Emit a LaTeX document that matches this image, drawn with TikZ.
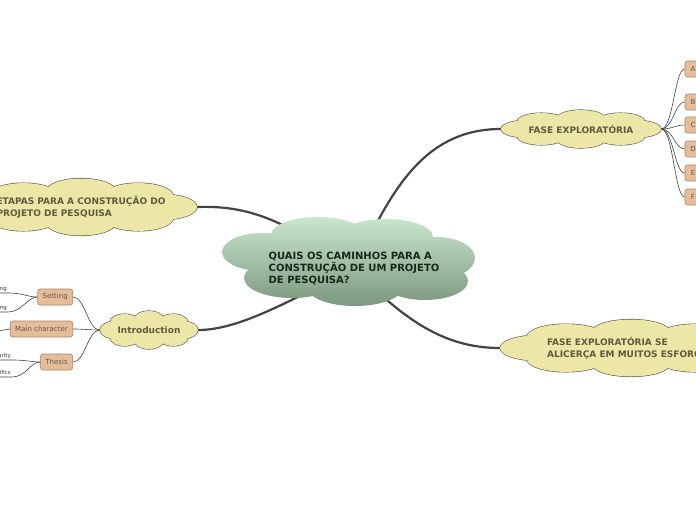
\documentclass[tikz,border=0pt]{standalone}
\usepackage{fontspec}
\setmainfont{DejaVu Sans}
\usetikzlibrary{calc,backgrounds}
\definecolor{mapdark}{HTML}{444444}
\definecolor{cloudyellow}{HTML}{ECE7A6}
\definecolor{cloudline}{HTML}{5A5A4C}
\definecolor{topictext}{HTML}{5E5B40}
\definecolor{centertop}{HTML}{CBE6CE}
\definecolor{centerbottom}{HTML}{7B987F}
\definecolor{centertext}{HTML}{15291A}
\definecolor{tagfill}{HTML}{E5BD9B}
\definecolor{tagline}{HTML}{A9866A}
\definecolor{tagtext}{HTML}{6A5746}

% yellow cloud round a topic node: #1 node, #2 half width, #3 half height
\newcommand\puffcloud[3]{%
  \foreach \ang in {0,45,...,315}
    \draw[cloudline, line width=1.2pt] ($(#1.center)+({0.7*#2*cos(\ang)},{0.55*#3*sin(\ang)})$)
      ellipse [x radius={0.3*#2}, y radius={0.45*#3}];
  \foreach \ang in {0,45,...,315}
    \fill[cloudyellow] ($(#1.center)+({0.7*#2*cos(\ang)},{0.55*#3*sin(\ang)})$)
      ellipse [x radius={0.3*#2}, y radius={0.45*#3}];
  \fill[cloudyellow] (#1.center) ellipse [x radius={0.8*#2}, y radius={0.7*#3}];
}

\begin{document}
\begin{tikzpicture}[x=1pt, y=-1pt,
        topic/.style={text=topictext, font=\fontsize{9}{12}\selectfont\bfseries,
                      align=left, inner sep=0pt},
        main/.style={text=centertext, font=\fontsize{10}{12}\selectfont\bfseries,
                     align=left, inner sep=0pt},
        tag/.style={draw=tagline, line width=0.6pt, rounded corners=2.5pt, fill=tagfill,
                    text=tagtext, font=\fontsize{7}{8}\selectfont, minimum height=16pt,
                    inner xsep=5pt, inner ysep=0pt},
        letter/.style={tag, minimum width=16pt, inner xsep=0pt},
        leaf/.style={font=\fontsize{5.5}{6}\selectfont, text=black!80, inner sep=1pt, anchor=south east},
        branch/.style={draw=mapdark, line width=2.2pt},
        twig/.style={draw=mapdark, line width=0.6pt}
      ]
        \useasboundingbox (0,0) rectangle (696,520);
        \clip (0,0) rectangle (696,520);

        \node[main]  (quest)   at (354,269) {QUAIS OS CAMINHOS PARA A\\CONSTRUÇÃO DE UM PROJETO\\DE PESQUISA?};
        \node[topic, minimum width=232pt, minimum height=57pt] (etapas)  at (81,207)  {ETAPAS PARA A CONSTRUÇÃO DO\\PROJETO DE PESQUISA};
        \node[topic, minimum width=160pt, minimum height=38pt] (explo)   at (581,129) {FASE EXPLORATÓRIA};
        \node[topic, minimum width=262pt, minimum height=57pt] (esforco) at (631,348) {FASE EXPLORATÓRIA SE\\ALICERÇA EM MUITOS ESFORÇOS};
        \node[topic, minimum width=98pt,  minimum height=38pt] (intro)   at (149,330) {Introduction};

        \node[letter] (a) at (693,69)  {A};
        \node[letter] (b) at (693,102) {B};
        \node[letter] (c) at (693,125) {C};
        \node[letter] (d) at (693,149) {D};
        \node[letter] (e) at (693,173) {E};
        \node[letter] (f) at (693,197) {F};

        \node[tag, anchor=east] (setting) at (73,297) {Setting};
        \node[tag, anchor=east] (hero)    at (73,329) {Main character};
        \node[tag, anchor=east] (thesis)  at (73,362) {Thesis};

        \node[leaf] (open)  at (8,293)  {Opening};
        \node[leaf] (end)   at (8,312)  {Ending};
        \node[leaf] (name)  at (-2,331) {Name};
        \node[leaf] (clear) at (12,360) {Clarity};
        \node[leaf] (spec)  at (12,377) {Specifics};

        \begin{scope}[on background layer]
          \fill[white] (0,0) rectangle (696,520);
          \draw[branch] (quest.center) .. controls (290,225) and (255,205) .. (etapas.east);
          \draw[branch] (quest.center) .. controls (388,198) and (420,129) .. (explo.west);
          \draw[branch] (quest.center) .. controls (400,315) and (440,348) .. (esforco.west);
          \draw[branch] (quest.center) .. controls (290,300) and (240,330) .. (intro.east);

          \foreach \t in {a,b,c,d,e,f}
            \draw[twig] (explo.east) .. controls +(12,0) and +(-10,0) .. (\t.west);
          \foreach \t in {setting,hero,thesis}
            \draw[twig] (intro.west) .. controls +(-12,0) and +(12,0) .. (\t.east);

          \draw[twig] (open.south west) -- (open.south east) .. controls +(16,0) and +(-10,0) .. (setting.west);
          \draw[twig] (end.south west) -- (end.south east) .. controls +(14,0) and +(-10,0) .. (setting.west);
          \draw[twig] (name.south west) -- (name.south east) -- (hero.west);
          \draw[twig] (clear.south west) -- (clear.south east) .. controls +(16,0) and +(-10,0) .. (thesis.west);
          \draw[twig] (spec.south west) -- (spec.south east) .. controls +(14,0) and +(-10,0) .. (thesis.west);

          \shade[top color=centertop, bottom color=centerbottom]
            (318,235) ellipse [x radius=47, y radius=18]
            (386,237) ellipse [x radius=47, y radius=18]
            (262,252) ellipse [x radius=40, y radius=19]
            (292,278) ellipse [x radius=48, y radius=20]
            (355,287) ellipse [x radius=48, y radius=19]
            (425,281) ellipse [x radius=43, y radius=19]
            (437,258) ellipse [x radius=38, y radius=21]
            (350,262) ellipse [x radius=100, y radius=30];

          \puffcloud{etapas}{116}{28.5}
          \puffcloud{explo}{80}{19}
          \puffcloud{esforco}{131}{28.5}
          \puffcloud{intro}{49}{19}
        \end{scope}
      \end{tikzpicture}
\end{document}
